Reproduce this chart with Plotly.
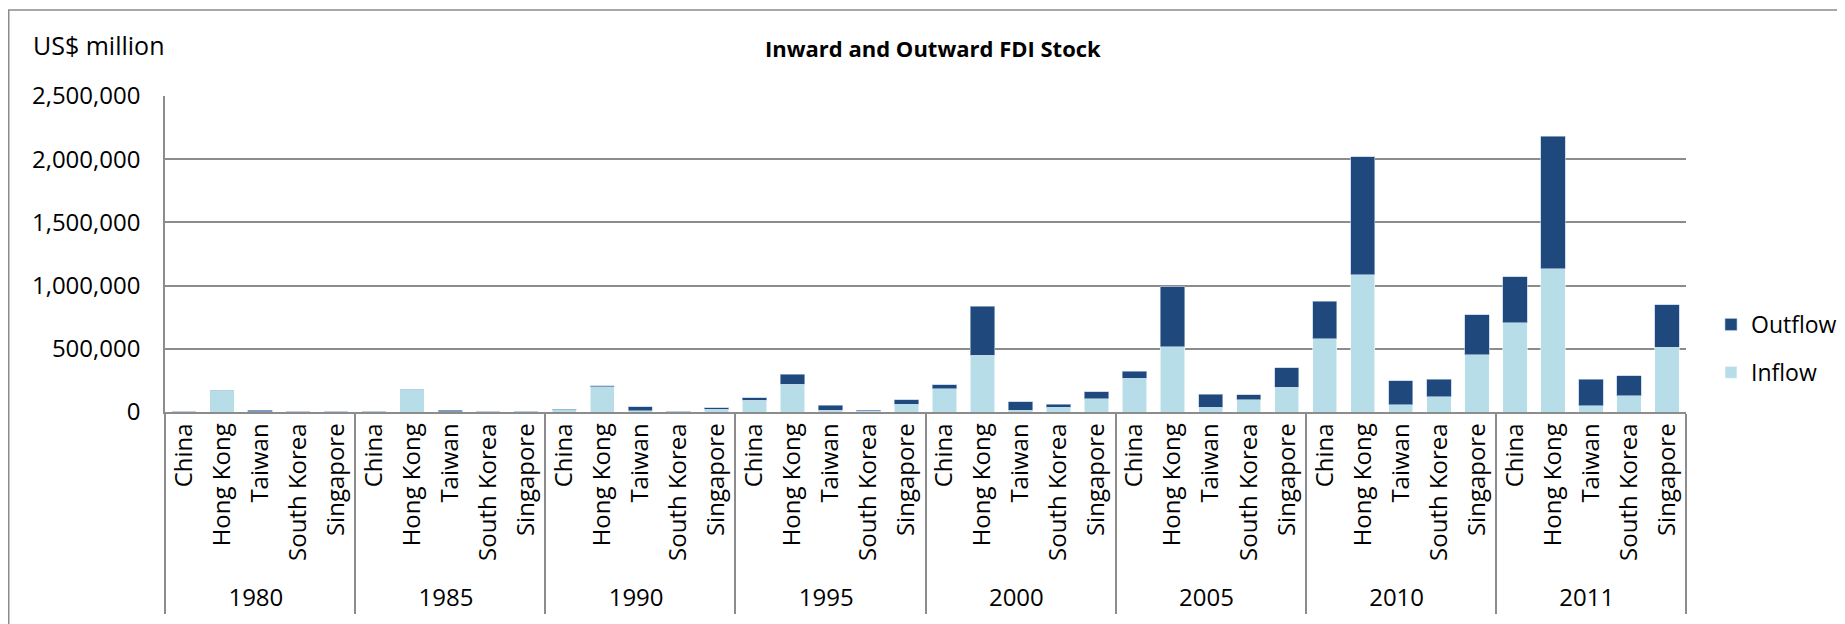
import plotly.graph_objects as go

years = ["1980", "1985", "1990", "1995", "2000", "2005", "2010", "2011"]
countries = ["China", "Hong Kong", "Taiwan", "South Korea", "Singapore"]

# US$ million, per year in order of `countries`
inflow = [
    [1074, 172000, 2400, 1140, 6203],
    [6060, 179000, 2900, 1806, 6000],
    [19000, 198000, 9735, 5186, 22000],
    [92000, 221000, 13000, 5000, 61000],
    [185000, 448000, 13000, 37000, 103000],
    [266000, 517000, 37000, 98000, 195000],
    [580000, 1086000, 58000, 121000, 454000],
    [707000, 1134000, 50000, 127000, 512000],
]
outflow = [
    [0, 148, 10000, 142, 1000],
    [131, 2300, 10000, 461, 1500],
    [2500, 10000, 30356, 2301, 10000],
    [21000, 79000, 40000, 8000, 34000],
    [31000, 390000, 69000, 24000, 58000],
    [56000, 472000, 103000, 39000, 156000],
    [298000, 934000, 190000, 137000, 316000],
    [364000, 1047000, 211000, 158000, 337000],
]

x_year = [y for y in years for _ in countries]
x_cty = [c for _ in years for c in countries]
in_vals = [v for row in inflow for v in row]
out_vals = [v for row in outflow for v in row]

FONT = "Open Sans"
GRID = "#8c8c8c"

fig = go.Figure()
fig.add_trace(go.Bar(
    x=[x_year, x_cty], y=in_vals, name="Inflow",
    marker=dict(color="#b7dde8", line=dict(color="rgba(255,255,255,0.7)", width=0.8)),
    legendgroup="in", legendrank=2,
))
fig.add_trace(go.Bar(
    x=[x_year, x_cty], y=out_vals, name="Outflow",
    marker=dict(color="#1f497d", line=dict(color="rgba(180,200,225,0.8)", width=0.8)),
    legendgroup="out", legendrank=1,
))

# page body adds an 8px offset; work in screen pixels and convert
OFF = 8
W, H = 1845 - OFF, 624 - OFF
L = 165 - OFF
T = 96 - OFF
R = W - (1686 - OFF)
B = H - (412 - OFF)
pw = W - L - R
ph = H - T - B

def sx(px):
    return (px - OFF - L) / pw

def sy(py):
    return (H - B - (py - OFF)) / ph

fig.update_layout(
    width=W, height=H,
    barmode="stack", bargap=0.36,
    plot_bgcolor="white", paper_bgcolor="white",
    margin=dict(l=L, r=R, t=T, b=B, autoexpand=False),
    font=dict(family=FONT, size=23, color="#000000"),
    showlegend=True,
    legend=dict(
        x=sx(1711), y=sy(303), xanchor="left", yanchor="top",
        traceorder="grouped", tracegroupgap=15,
        font=dict(family=FONT, size=23, color="#000000"),
        bgcolor="rgba(0,0,0,0)",
    ),
    annotations=[
        dict(text="Inward and Outward FDI Stock", xref="paper", yref="paper",
             x=sx(933), y=sy(48), xanchor="center", yanchor="middle",
             showarrow=False, font=dict(family=FONT, size=22, color="#000000", weight="bold")),
        dict(text="US$ million", xref="paper", yref="paper",
             x=sx(31), y=sy(45), xanchor="left", yanchor="middle",
             showarrow=False, font=dict(family=FONT, size=25, color="#000000")),
    ],
    shapes=[
        dict(type="rect", xref="paper", yref="paper",
             x0=sx(8.75), y0=sy(10), x1=sx(1900), y1=sy(700),
             line=dict(color="#8c8c8c", width=1.5), fillcolor="rgba(0,0,0,0)", layer="below"),
    ],
)

fig.update_yaxes(
    range=[0, 2500000], dtick=500000, tickformat=",",
    showgrid=True, gridcolor=GRID, gridwidth=1.5,
    showline=True, linecolor=GRID, linewidth=1.5,
    zeroline=False, ticks="", ticklabelstandoff=18, automargin=False,
    tickfont=dict(family=FONT, size=24, color="#000000"),
)
fig.update_xaxes(
    type="multicategory", tickangle=-90,
    showline=True, linecolor=GRID, linewidth=1.5,
    showdividers=True, dividercolor=GRID, dividerwidth=1.5,
    ticks="outside", ticklen=6, tickcolor="rgba(255,255,255,0)",
    showgrid=False, automargin=False,
    tickfont=dict(family=FONT, size=24, color="#000000"),
)

fig.write_html("out.html")
